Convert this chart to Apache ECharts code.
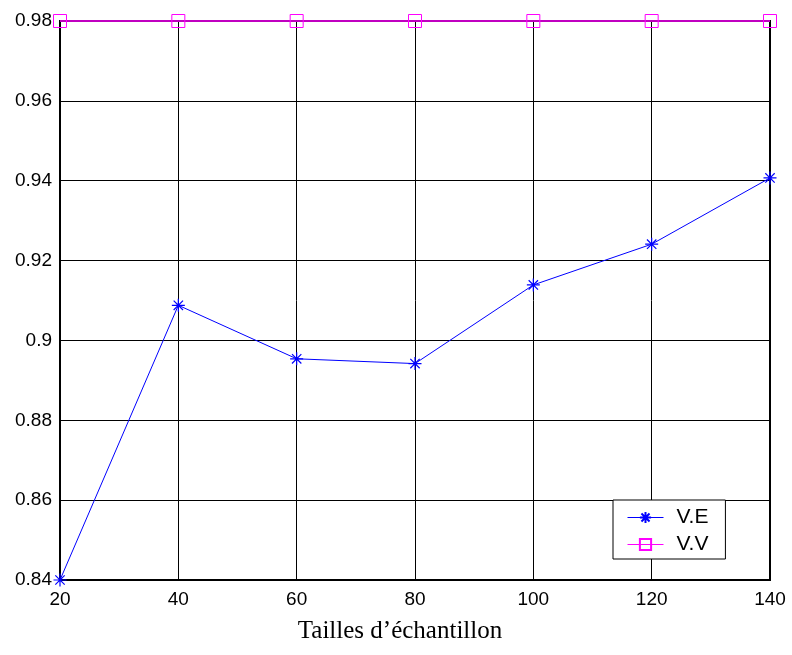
<!DOCTYPE html>
<html>
<head>
<meta charset="utf-8">
<script src="https://cdn.jsdelivr.net/npm/echarts@6/dist/echarts.min.js"></script>
<style>
html,body{margin:0;padding:0;background:#fff;}
#chart{width:792px;height:655px;}
</style>
</head>
<body>
<div id="chart"></div>
<script>
const xValues = [20, 40, 60, 80, 100, 120, 140];
const veValues = [0.840, 0.9088, 0.8954, 0.8942, 0.9139, 0.9241, 0.9407];
const vvValues = [0.98, 0.98, 0.98, 0.98, 0.98, 0.98, 0.98];
const seriesNames = ['V.E', 'V.V'];
const xAxisTitle = 'Tailles d\u2019échantillon';

const asterisk = 'path://M0,-5L0,5M-5,0L5,0M-3.6,-3.6L3.6,3.6M-3.6,3.6L3.6,-3.6';

const chart = echarts.init(document.getElementById('chart'));
chart.setOption({
  animation: false,
  backgroundColor: '#fff',
  grid: {
    left: 60, right: 22, top: 21, bottom: 75,
    outerBoundsMode: 'none', containLabel: false,
    show: true, borderColor: '#000', borderWidth: 2, backgroundColor: 'transparent'
  },
  xAxis: {
    type: 'value', min: 20, max: 140, interval: 20,
    name: xAxisTitle, nameLocation: 'middle', nameGap: 39,
    nameTextStyle: { fontFamily: 'Liberation Serif', fontSize: 25, color: '#000', padding: [0, 30, 0, 0] },
    axisLine: { show: true, onZero: false, lineStyle: { color: '#000', width: 2 } },
    axisTick: { show: false },
    axisLabel: { color: '#000', fontFamily: 'Liberation Sans', fontSize: 19, margin: 10 },
    splitLine: { show: true, lineStyle: { color: '#000', width: 1 } }
  },
  yAxis: {
    type: 'value', min: 0.84, max: 0.98, interval: 0.02,
    axisLine: { show: true, onZero: false, lineStyle: { color: '#000', width: 2 } },
    axisTick: { show: false },
    axisLabel: {
      color: '#000', fontFamily: 'Liberation Sans', fontSize: 19, margin: 8,
      formatter: v => parseFloat(v.toFixed(2)).toString()
    },
    splitLine: { show: true, lineStyle: { color: '#000', width: 1 } }
  },
  legend: {
    left: 613, top: 500, orient: 'vertical',
    backgroundColor: '#fff', borderColor: '#000', borderWidth: 1,
    padding: [7, 17, 4, 14], itemGap: 6, itemWidth: 36, itemHeight: 14,
    lineStyle: { width: 1 },
    textStyle: { color: '#000', fontFamily: 'Liberation Sans', fontSize: 21, lineHeight: 21, padding: [0, 0, 0, 8] },
    data: seriesNames
  },
  series: [
    {
      name: seriesNames[0], type: 'line',
      data: xValues.map((x, i) => [x, veValues[i]]),
      symbol: asterisk, symbolSize: 13, showSymbol: true, clip: false,
      lineStyle: { color: '#0000ff', width: 1 },
      itemStyle: { color: 'none', borderColor: '#0000ff', borderWidth: 1.2 },
      z: 3
    },
    {
      name: seriesNames[1], type: 'line',
      data: xValues.map((x, i) => [x, vvValues[i]]),
      symbol: 'rect', symbolSize: 13, showSymbol: true, clip: false,
      lineStyle: { color: '#ff00ff', width: 1.5 },
      itemStyle: { color: 'none', borderColor: '#ff00ff', borderWidth: 1 },
      z: 4
    }
  ]
});
</script>
</body>
</html>
